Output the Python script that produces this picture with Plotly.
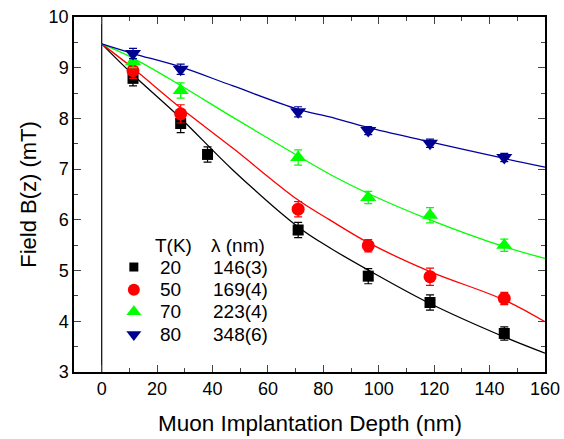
import plotly.graph_objects as go

# --- data ---
depth_pts = [11.3, 28.5, 38.2, 70.9, 96.2, 118.5, 145.3]
depth_pts6 = [11.3, 28.5, 70.9, 96.2, 118.5, 145.3]

b20 = [8.79, 7.90, 7.29, 5.80, 4.89, 4.37, 3.76]
b20_err = [0.15, 0.18, 0.15, 0.15, 0.15, 0.15, 0.13]
b50 = [8.94, 8.09, 6.21, 5.49, 4.88, 4.45]
b50_err = [0.15, 0.18, 0.15, 0.12, 0.17, 0.12]
b70 = [9.12, 8.55, 7.23, 6.44, 6.09, 5.50]
b70_err = [0.12, 0.15, 0.15, 0.12, 0.15, 0.12]
b80 = [9.28, 8.97, 8.13, 7.76, 7.51, 7.23]
b80_err = [0.1, 0.1, 0.1, 0.08, 0.08, 0.08]

fit_z = [0, 11.3, 28.2, 47.4, 70.9, 82.3, 96.2, 118.5, 145.3, 160]
fit20 = [9.47, 8.86, 8.02, 6.98, 5.86, 5.45, 5.01, 4.35, 3.69, 3.37]
fit50 = [9.47, 8.99, 8.22, 7.41, 6.39, 6.00, 5.55, 4.98, 4.42, 3.99]
fit70 = [9.47, 9.19, 8.66, 8.02, 7.26, 6.90, 6.52, 6.00, 5.47, 5.24]
fit80 = [9.47, 9.28, 9.02, 8.64, 8.18, 8.03, 7.82, 7.54, 7.21, 7.04]

temps = ["20", "50", "70", "80"]
lambdas = ["146(3)", "169(4)", "223(4)", "348(6)"]

colors = ["#000000", "#FF0000", "#00FF00", "#000090"]
line_colors = ["#000000", "#FF0000", "#00FF00", "#0000A0"]
symbols = ["square", "circle", "triangle-up", "triangle-down"]
sizes = [11, 13, 14, 14]
leg_sizes = [9, 12, 13, 13]

FONT = "Liberation Sans, Arial, sans-serif"

fig = go.Figure()

# zero line
fig.add_trace(go.Scatter(x=[0, 0], y=[3, 10], mode="lines",
                         line=dict(color="black", width=1.2),
                         showlegend=False, hoverinfo="skip"))

fits = [fit20, fit50, fit70, fit80]
for f, c in zip(fits, line_colors):
    fig.add_trace(go.Scatter(x=fit_z, y=f, mode="lines", line=dict(color=c, width=1.3),
                             line_shape="spline", showlegend=False))

series = [(depth_pts, b20, b20_err), (depth_pts6, b50, b50_err),
          (depth_pts6, b70, b70_err), (depth_pts6, b80, b80_err)]
for (xs, ys, es), c, s, sz in zip(series, colors, symbols, sizes):
    fig.add_trace(go.Scatter(
        x=xs, y=ys, mode="markers",
        marker=dict(color=c, symbol=s, size=sz, line=dict(width=0)),
        error_y=dict(type="data", array=es, color=c, thickness=1.2, width=4),
        showlegend=False))

# legend table (drawn inside the plot)
leg_x = 11.6
leg_rows_y = [5.07, 4.62, 4.19, 3.74]
for yv, c, s, sz in zip(leg_rows_y, colors, symbols, leg_sizes):
    fig.add_trace(go.Scatter(x=[leg_x], y=[yv], mode="markers",
                             marker=dict(color=c, symbol=s, size=sz),
                             showlegend=False, hoverinfo="skip"))

TXT = dict(size=19, family=FONT, color="black")
annos = []
annos.append(dict(x=25.8, y=5.50, text="T(K)", showarrow=False, xanchor="center", font=TXT))
annos.append(dict(x=49.2, y=5.50, text="λ (nm)", showarrow=False, xanchor="center", font=TXT))
for yv, t, l in zip(leg_rows_y, temps, lambdas):
    annos.append(dict(x=24.9, y=yv, text=t, showarrow=False, xanchor="center", font=TXT))
    annos.append(dict(x=50.1, y=yv, text=l, showarrow=False, xanchor="center", font=TXT))

# axis titles
annos.append(dict(xref="paper", yref="paper", x=0.5, y=-0.145, yanchor="middle",
                  text="Muon Implantation Depth (nm)", showarrow=False,
                  font=dict(size=22.5, family=FONT, color="black")))
annos.append(dict(xref="paper", yref="paper", x=-0.097, y=0.5, xanchor="center",
                  text="Field B(z) (mT)", showarrow=False, textangle=-90,
                  font=dict(size=22, family=FONT, color="black")))

fig.update_layout(
    width=564, height=439,
    margin=dict(l=74, r=19, t=17, b=67, autoexpand=False),
    paper_bgcolor="white", plot_bgcolor="white",
    annotations=annos,
    font=dict(family=FONT, color="black"),
    xaxis=dict(range=[-10, 160], dtick=20, tick0=0, ticks="inside", ticklen=7,
               tickwidth=1.2, showline=True, linecolor="black", linewidth=1.5,
               mirror="allticks", showgrid=False, zeroline=False, automargin=False,
               tickfont=dict(size=18, family=FONT),
               minor=dict(dtick=10, tick0=0, ticks="inside", ticklen=4, tickwidth=1)),
    yaxis=dict(range=[3, 10], dtick=1, ticks="inside", ticklen=7, tickwidth=1.2,
               showline=True, linecolor="black", linewidth=1.5,
               mirror="allticks", showgrid=False, zeroline=False, automargin=False,
               tickfont=dict(size=18, family=FONT),
               minor=dict(dtick=0.5, ticks="inside", ticklen=4, tickwidth=1)),
)

fig.write_html(
    "out.html",
    config={"displayModeBar": False},
    post_script="document.body.style.margin='0';document.body.style.padding='0';",
)
